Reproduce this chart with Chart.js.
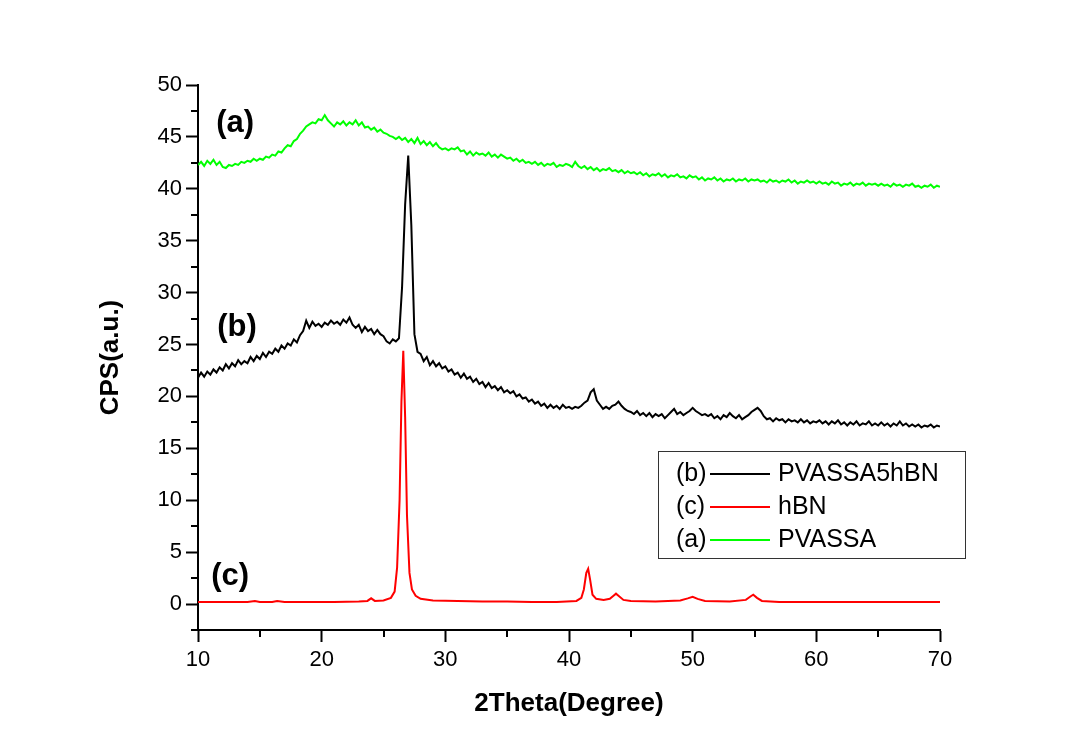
<!DOCTYPE html>
<html>
<head>
<meta charset="utf-8">
<title>XRD patterns</title>
<script src="https://cdn.jsdelivr.net/npm/chart.js@4/dist/chart.umd.min.js"></script>
<style>
  html, body { margin: 0; padding: 0; background: #fff; }
  .chart-wrap { position: relative; width: 1083px; height: 755px; }
</style>
</head>
<body>
<div class="chart-wrap"><canvas id="xrd-chart"></canvas></div>
<script>
// scan grid for (a) and (b): 10..70 deg, 0.25 deg step
var scanStart = 10;
var scanStep = 0.25;

// (b) PVASSA5hBN
var compositeCps = [
  21.8, 22.3, 21.9, 22.4, 22.1, 22.6, 22.3, 22.8, 22.5, 23.1, 22.7, 23.2, 22.9, 23.5, 23.1, 23.4, 23.2, 23.8, 23.4, 23.9, 23.6,
  24.2, 23.8, 24.3, 24.1, 24.6, 24.3, 24.9, 24.6, 25.1, 24.9, 25.5, 25.2, 25.9, 26.3, 27.3, 26.6, 27.2, 26.8, 27.0, 26.7,
  27.1, 26.9, 27.3, 27.0, 27.2, 26.9, 27.4, 27.1, 27.6, 26.9, 26.6, 26.9, 26.2, 26.7, 26.3, 26.5, 26.0, 26.4, 26.0, 25.8,
  25.3, 25.1, 25.5, 25.3, 25.6, 30.5, 38.5, 43.2, 36.5, 26.0, 24.3, 24.1, 23.4, 23.8, 23.0, 23.4, 22.9, 23.2, 22.7, 22.9,
  22.4, 22.6, 22.1, 22.3, 21.8, 22.2, 21.7, 21.9, 21.4, 21.7, 21.2, 21.4, 20.9, 21.3, 20.8, 21.0, 20.6, 20.9, 20.4, 20.6,
  20.3, 20.5, 20.0, 20.2, 19.8, 19.9, 19.5, 19.7, 19.3, 19.5, 19.1, 19.3, 18.9, 19.2, 18.9, 19.1, 18.8, 19.2, 18.9, 19.0,
  18.8, 19.0, 18.9, 19.1, 19.4, 19.6, 20.4, 20.7, 19.6, 19.2, 18.8, 19.0, 18.8, 19.1, 19.2, 19.5, 19.1, 18.8, 18.6, 18.5,
  18.3, 18.6, 18.2, 18.4, 18.1, 18.4, 18.0, 18.3, 18.1, 18.3, 17.9, 18.2, 18.5, 18.8, 18.3, 18.5, 18.2, 18.4, 18.6, 18.9,
  18.6, 18.4, 18.2, 18.3, 18.1, 18.3, 17.9, 18.1, 17.8, 18.2, 18.0, 18.4, 18.1, 17.9, 18.2, 17.8, 18.0, 18.2, 18.5, 18.7,
  18.9, 18.6, 18.1, 17.8, 17.9, 17.6, 17.9, 17.7, 17.8, 17.5, 17.8, 17.6, 17.7, 17.5, 17.8, 17.5, 17.7, 17.4, 17.6, 17.5,
  17.7, 17.4, 17.6, 17.3, 17.6, 17.4, 17.7, 17.3, 17.5, 17.2, 17.5, 17.3, 17.6, 17.2, 17.4, 17.3, 17.6, 17.2, 17.4, 17.2,
  17.5, 17.2, 17.4, 17.1, 17.4, 17.2, 17.6, 17.2, 17.4, 17.1, 17.3, 17.1, 17.3, 17.0, 17.2, 17.1, 17.3, 17.0, 17.2, 17.1
];

// (a) PVASSA
var polymerCps = [
  42.3, 42.6, 42.2, 42.7, 42.4, 42.8, 42.3, 42.6, 42.1, 42.0, 42.3, 42.2, 42.4, 42.3, 42.6, 42.5, 42.7, 42.6, 42.9, 42.7, 42.9,
  42.8, 43.1, 43.0, 43.3, 43.2, 43.6, 43.5, 43.9, 44.2, 44.1, 44.6, 44.8, 45.3, 45.6, 46.0, 46.2, 46.4, 46.3, 46.7, 46.6,
  47.1, 46.6, 46.3, 46.0, 46.4, 46.2, 46.5, 46.1, 46.4, 46.2, 46.6, 46.1, 46.4, 45.9, 46.0, 45.7, 45.9, 45.5, 45.7, 45.4,
  45.3, 45.1, 45.0, 44.8, 45.0, 44.7, 44.9, 44.5, 44.8, 44.4, 44.9, 44.3, 44.6, 44.2, 44.5, 44.1, 44.4, 44.0, 43.8, 43.9,
  43.7, 43.9, 43.8, 44.0, 43.6, 43.7, 43.3, 43.6, 43.2, 43.5, 43.3, 43.4, 43.2, 43.5, 43.1, 43.3, 43.0, 43.3, 43.1, 42.9,
  43.0, 42.7, 42.9, 42.6, 42.8, 42.5, 42.6, 42.4, 42.6, 42.3, 42.5, 42.2, 42.4, 42.3, 42.5, 42.1, 42.3, 42.2, 42.4, 42.3,
  42.1, 42.6, 42.2, 42.0, 42.2, 41.9, 42.1, 41.8, 42.0, 41.7, 41.9, 41.8, 42.0, 41.7, 41.8, 41.6, 41.8, 41.5, 41.7, 41.5,
  41.6, 41.4, 41.6, 41.3, 41.5, 41.2, 41.4, 41.3, 41.5, 41.2, 41.4, 41.1, 41.3, 41.2, 41.4, 41.1, 41.2, 41.0, 41.3, 41.1,
  41.2, 40.9, 41.1, 40.8, 41.0, 40.9, 41.1, 40.8, 41.0, 40.7, 40.9, 40.8, 41.0, 40.7, 40.9, 40.8, 41.0, 40.7, 40.9, 40.8,
  40.9, 40.7, 40.8, 40.6, 40.9, 40.7, 40.8, 40.6, 40.8, 40.7, 40.9, 40.6, 40.8, 40.5, 40.7, 40.6, 40.8, 40.6, 40.7, 40.5,
  40.7, 40.5, 40.6, 40.4, 40.7, 40.5, 40.6, 40.3, 40.5, 40.4, 40.6, 40.3, 40.5, 40.4, 40.6, 40.3, 40.5, 40.4, 40.5, 40.3,
  40.5, 40.3, 40.4, 40.2, 40.5, 40.3, 40.4, 40.2, 40.4, 40.3, 40.5, 40.2, 40.3, 40.1, 40.3, 40.2, 40.4, 40.1, 40.3, 40.2
];

// (c) hBN - denser sampling around the reflections
var hbnAngles = [
  10, 12, 14, 14.6, 15, 16, 16.4, 17, 19, 21,
  23, 23.7, 24.0, 24.3, 25, 25.6, 25.9, 26.1, 26.3, 26.45,
  26.6, 26.75, 26.9, 27.1, 27.3, 27.6, 28, 29, 31, 33,
  35, 37, 39, 40.6, 41.0, 41.2, 41.4, 41.55, 41.7, 41.9,
  42.2, 42.8, 43.3, 43.6, 43.8, 44.0, 44.4, 45, 47, 49,
  49.6, 50.0, 50.4, 51, 53, 54.3, 54.7, 54.9, 55.2, 55.6,
  57, 59, 61, 63, 65, 67, 70
];
var hbnCps = [
  0.2, 0.2, 0.2, 0.3, 0.2, 0.2, 0.3, 0.2, 0.2, 0.2,
  0.25, 0.3, 0.55, 0.3, 0.35, 0.6, 1.2, 3.5, 10.0, 19.5,
  24.4, 18.0, 8.5, 3.0, 1.4, 0.8, 0.5, 0.35, 0.3, 0.25,
  0.25, 0.2, 0.2, 0.3, 0.6, 1.4, 3.0, 3.4, 2.4, 0.9,
  0.5, 0.4, 0.5, 0.8, 1.0, 0.8, 0.4, 0.3, 0.25, 0.35,
  0.55, 0.7, 0.5, 0.3, 0.25, 0.4, 0.75, 0.9, 0.6, 0.3,
  0.2, 0.2, 0.2, 0.2, 0.2, 0.2, 0.2
];

// legend order as in the figure: (b), (c), (a)
var seriesTags = ['(b)', '(c)', '(a)'];
var seriesNames = ['PVASSA5hBN', 'hBN', 'PVASSA'];
var seriesColors = ['#000000', '#ff0000', '#00ff00'];

// curve tags drawn inside the plot, in data coordinates
var tagText = ['(a)', '(b)', '(c)'];
var tagAngle = [13.0, 13.15, 12.6];
var tagCps = [46.3, 26.6, 2.7];

var xMinorTicks = [15, 25, 35, 45, 55, 65];
var yMinorTicks = [-2.5, 2.5, 7.5, 12.5, 17.5, 22.5, 27.5, 32.5, 37.5, 42.5, 47.5];

var FONT = '"Liberation Sans", Arial, sans-serif';

function toPoints(xs, ys) {
  return ys.map(function(y, i) { return { x: xs[i], y: y }; });
}
function scanPoints(ys) {
  return ys.map(function(y, i) { return { x: scanStart + i * scanStep, y: y }; });
}

var seriesData = [scanPoints(compositeCps), toPoints(hbnAngles, hbnCps), scanPoints(polymerCps)];

var decorPlugin = {
  id: 'decor',
  afterDraw: function(chart) {
    var ctx = chart.ctx;
    var xs = chart.scales.x;
    var ys = chart.scales.y;
    var area = chart.chartArea;

    // minor ticks
    ctx.save();
    ctx.strokeStyle = '#000';
    ctx.lineWidth = 2;
    ctx.beginPath();
    xMinorTicks.forEach(function(v) {
      var px = Math.round(xs.getPixelForValue(v));
      ctx.moveTo(px, area.bottom);
      ctx.lineTo(px, area.bottom + 7);
    });
    yMinorTicks.forEach(function(v) {
      var py = Math.round(ys.getPixelForValue(v));
      ctx.moveTo(area.left - 7, py);
      ctx.lineTo(area.left, py);
    });
    ctx.stroke();

    // curve tags
    ctx.fillStyle = '#000';
    ctx.font = 'bold 31px ' + FONT;
    ctx.textAlign = 'center';
    ctx.textBaseline = 'middle';
    tagText.forEach(function(t, i) {
      ctx.fillText(t, xs.getPixelForValue(tagAngle[i]), ys.getPixelForValue(tagCps[i]));
    });

    // legend box
    var bx = 658, by = 451, bw = 307, bh = 107;
    ctx.strokeStyle = '#333';
    ctx.lineWidth = 1;
    ctx.strokeRect(bx + 0.5, by + 0.5, bw, bh);
    ctx.font = '25px ' + FONT;
    ctx.textAlign = 'left';
    var rowY = [474, 507, 540];
    chart.data.datasets.forEach(function(ds, i) {
      ctx.fillStyle = '#000';
      ctx.fillText(seriesTags[i], bx + 18, rowY[i]);
      ctx.strokeStyle = ds.borderColor;
      ctx.lineWidth = 2;
      ctx.beginPath();
      ctx.moveTo(bx + 52, rowY[i]);
      ctx.lineTo(bx + 112, rowY[i]);
      ctx.stroke();
      ctx.fillText(ds.label, bx + 120, rowY[i]);
    });
    ctx.restore();
  }
};

(function() {
  var ctx = document.getElementById('xrd-chart');
  new Chart(ctx, {
    type: 'line',
    data: {
      datasets: seriesNames.map(function(name, i) {
        return {
          label: name,
          data: seriesData[i],
          borderColor: seriesColors[i],
          backgroundColor: seriesColors[i],
          borderWidth: 2,
          pointRadius: 0,
          tension: 0,
          fill: false
        };
      })
    },
    options: {
      responsive: true,
      maintainAspectRatio: false,
      animation: false,
      layout: { padding: { left: 0, top: 85, right: 143, bottom: 0 } },
      plugins: {
        legend: { display: false },
        tooltip: { enabled: false }
      },
      scales: {
        x: {
          type: 'linear',
          min: 10,
          max: 70,
          afterFit: function(scale) { scale.height = 125; },
          ticks: { stepSize: 10, color: '#000', padding: 5, font: { family: FONT, size: 22 } },
          grid: { drawOnChartArea: false, drawTicks: true, tickLength: 12, tickColor: '#000', tickWidth: 2 },
          border: { display: true, color: '#000', width: 2 },
          title: {
            display: true,
            text: '2Theta(Degree)',
            color: '#000',
            font: { family: FONT, size: 26, weight: 'bold' },
            padding: { top: 0, bottom: 36 }
          }
        },
        y: {
          type: 'linear',
          min: -2.5,
          max: 50,
          afterFit: function(scale) { scale.width = 198; },
          afterBuildTicks: function(scale) {
            scale.ticks = scale.ticks.filter(function(t) { return t.value % 5 === 0; });
          },
          ticks: { stepSize: 5, color: '#000', padding: 4, font: { family: FONT, size: 22 } },
          grid: { drawOnChartArea: false, drawTicks: true, tickLength: 12, tickColor: '#000', tickWidth: 2 },
          border: { display: true, color: '#000', width: 2 },
          title: {
            display: true,
            text: 'CPS(a.u.)',
            color: '#000',
            font: { family: FONT, size: 26, weight: 'bold' },
            padding: { top: 95, bottom: 0 }
          }
        }
      }
    },
    plugins: [decorPlugin]
  });
})();
</script>
</body>
</html>
